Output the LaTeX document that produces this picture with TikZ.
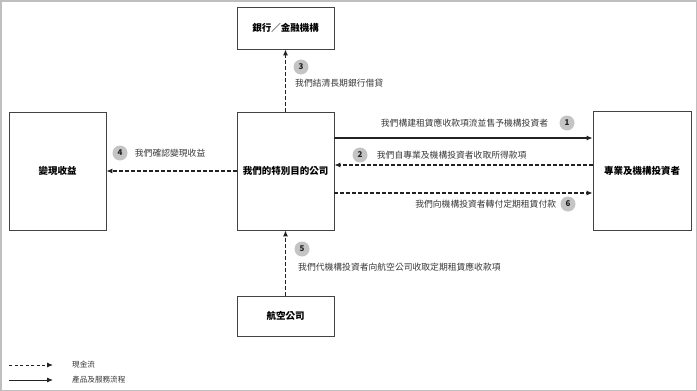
\documentclass[tikz,border=0pt]{standalone}
\usepackage{fontspec}
\setmainfont{Noto Sans CJK TC}
\usetikzlibrary{arrows.meta, positioning}
\definecolor{SPVgray}{HTML}{C4C4C4}
\definecolor{SPVink}{HTML}{222222}
\definecolor{SPVframe}{HTML}{BFBFBF}

\begin{document}
\begin{tikzpicture}[x=1pt, y=-1pt,
   box/.style={draw=SPVink!85, line width=0.8pt, minimum width=97pt, inner sep=0pt,
      font=\bfseries\fontsize{9.5}{11}\selectfont},
   cash/.style={-{Latex[length=6pt, width=5pt]}, line width=1.1pt, SPVink,
      dash pattern=on 3.5pt off 2.5pt},
   flow/.style={-{Latex[length=6pt, width=5pt]}, line width=1.1pt, SPVink},
   stepno/.style={circle, fill=SPVgray, minimum size=15pt, inner sep=0pt,
      font=\bfseries\fontsize{8}{8}\selectfont, text=SPVink},
   note/.style={inner sep=0pt, text=SPVink!90, font=\fontsize{8.8}{10}\selectfont}]
            \useasboundingbox (0,0) rectangle (697,391);
            % Outer frame
            \draw[SPVframe, line width=1.5pt] (0.75,0.75) rectangle (696.25,390.25);
            % Boxes
            \node[box, minimum height=42pt] (bank) at (285.5,28) {銀行／金融機構};
            \node[box, minimum height=118pt] (spv) at (285.5,171) {我們的特別目的公司};
            \node[box, minimum height=118pt] (gain) at (57.5,171) {變現收益};
            \node[box, minimum height=119pt, minimum width=98pt] (inv) at (642,171) {專業及機構投資者};
            \node[box, minimum height=40pt] (air) at (285.5,316) {航空公司};
            % Step 3: repay bank loans
            \draw[cash] (spv.north) -- (bank.south);
            \node[stepno] (n3) at (301,67) {3};
            \node[note, anchor=west] (t3) at (295,83) {我們結清長期銀行借貸};
            % Step 1: sell receivables to investors
            \draw[flow] ([yshift=33pt]spv.east) -- ([yshift=33pt]inv.west);
            \node[stepno] (n1) at (567,123) {1};
            \node[note, left=11pt of n1] (t1) {我們構建租賃應收款項流並售予機構投資者};
            % Step 2: proceeds from investors
            \draw[cash] ([yshift=6pt]inv.west) -- ([yshift=6pt]spv.east);
            \node[stepno] (n2) at (360,155) {2};
            \node[note, right=9pt of n2] (t2) {我們自專業及機構投資者收取所得款項};
            % Step 6: pass on lease payments
            \draw[cash] ([yshift=-22pt]spv.east) -- ([yshift=-22pt]inv.west);
            \node[stepno] (n6) at (568,204) {6};
            \node[note, left=4pt of n6] (t6) {我們向機構投資者轉付定期租賃付款};
            % Step 4: realised gains
            \draw[cash] (spv.west) -- (gain.east);
            \node[stepno] (n4) at (120,153) {4};
            \node[note, right=7pt of n4] (t4) {我們確認變現收益};
            % Step 5: collect rents from airline
            \draw[cash] (air.north) -- (spv.south);
            \node[stepno] (n5) at (302,249) {5};
            \node[note, anchor=west] (t5) at (298,267) {我們代機構投資者向航空公司收取定期租賃應收款項};
            % Legend
            \coordinate (cashA) at (9,365);
            \coordinate (cashB) at (53,365);
            \coordinate (flowA) at (9,380);
            \coordinate (flowB) at (53,380);
            \draw[cash, line width=0.9pt, dash pattern=on 3pt off 2.5pt] (cashA) -- (cashB);
            \draw[flow, line width=0.9pt] (flowA) -- (flowB);
            \node[note, font=\fontsize{7.6}{9}\selectfont, right=19pt of cashB] (lcash) {現金流};
            \node[note, font=\fontsize{7.6}{9}\selectfont, right=19pt of flowB] (lflow) {產品及服務流程};
         \end{tikzpicture}
\end{document}
